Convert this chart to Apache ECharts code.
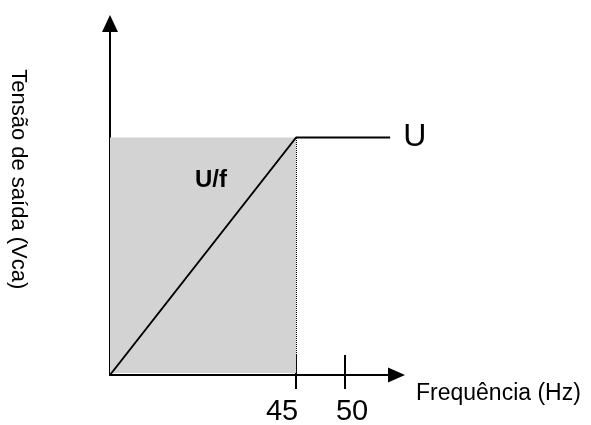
<!DOCTYPE html>
<html>
<head>
<meta charset="utf-8">
<script src="https://cdn.jsdelivr.net/npm/echarts@6/dist/echarts.min.js"></script>
<style>
  html, body { margin: 0; padding: 0; background: #fff; }
  #chart { width: 591px; height: 425px; }
</style>
</head>
<body>
<div id="chart"></div>
<script>
// curve U/f : rises linearly up to 45 Hz, then stays flat at U
const freq = [26, 45, 54.6];
const volt = [0, 1, 1];
const tickFreq = [45, 50];
const xMin = 26, xMax = 55.25;
const yMax = 1.48;
const ufPos = [36.3, 0.817];

const font = "Liberation Sans, Arial, sans-serif";
const gray = "#d3d3d3";

const points = freq.map(function (f, i) { return [f, volt[i]]; });

const chart = echarts.init(document.getElementById("chart"), null, { renderer: "canvas" });
chart.setOption({
  animation: false,
  backgroundColor: "#fff",
  grid: { left: 110, top: 23.5, right: 194.5, bottom: 50, outerBoundsMode: "none" },
  xAxis: [
    {
      type: "value", min: xMin, max: xMax,
      name: "Frequência (Hz)", nameLocation: "end", nameGap: 19.5,
      nameTextStyle: { fontSize: 23, color: "#000", fontFamily: font, verticalAlign: "top", padding: [7, 0, 0, 0] },
      axisLine: { lineStyle: { color: "#000", width: 2 }, symbol: ["none", "triangle"], symbolSize: [15, 17] },
      axisTick: { show: true, length: 14, customValues: tickFreq, lineStyle: { color: "#000", width: 2 } },
      axisLabel: {
        margin: 22, customValues: tickFreq, fontSize: 29, color: "#000", fontFamily: font,
        formatter: function (v) { return v === 45 ? "{l|45}" : "{r|" + v + "}"; },
        rich: {
          l: { fontSize: 29, fontFamily: font, color: "#000", padding: [0, 28, 0, 0] },
          r: { fontSize: 29, fontFamily: font, color: "#000", padding: [0, 0, 0, 14] }
        }
      },
      splitLine: { show: false }
    },
    {
      type: "value", min: xMin, max: xMax, position: "bottom",
      axisLine: { show: false },
      axisTick: { show: true, inside: true, length: 20, customValues: tickFreq, lineStyle: { color: "#000", width: 2 } },
      axisLabel: { show: false },
      splitLine: { show: false }
    }
  ],
  yAxis: {
    type: "value", min: 0, max: yMax,
    name: "Tensão de saída (Vca)", nameLocation: "middle", nameRotate: -90, nameGap: 81,
    nameTextStyle: { fontSize: 22, color: "#000", fontFamily: font, padding: [0, 40, 0, 0] },
    axisLine: { show: true, lineStyle: { color: "#000", width: 2 }, symbol: ["none", "triangle"], symbolSize: [16, 17] },
    axisTick: { show: false },
    axisLabel: { show: false },
    splitLine: { show: false }
  },
  series: [
    {
      type: "line",
      data: points,
      symbol: "none",
      lineStyle: { color: "#000", width: 2 },
      z: 5,
      endLabel: {
        show: true, distance: 13, formatter: "U",
        fontSize: 32, color: "#000", fontFamily: font
      },
      markArea: {
        silent: true,
        itemStyle: { color: gray },
        data: [[{ coord: [freq[0], 0.008] }, { coord: [freq[1], volt[1]] }]]
      },
      markLine: {
        silent: true,
        symbol: "none",
        label: { show: false },
        lineStyle: { color: "#000", width: 1, type: "dotted" },
        data: [[{ coord: [freq[1], 0] }, { coord: [freq[1], volt[1]] }]]
      },
      markPoint: {
        silent: true,
        symbolSize: 1,
        itemStyle: { color: "rgba(0,0,0,0)" },
        label: {
          show: true, position: "inside", formatter: "U/f",
          fontSize: 24, fontWeight: "bold", color: "#000", fontFamily: font
        },
        data: [{ coord: ufPos }]
      }
    }
  ]
});
</script>
</body>
</html>
